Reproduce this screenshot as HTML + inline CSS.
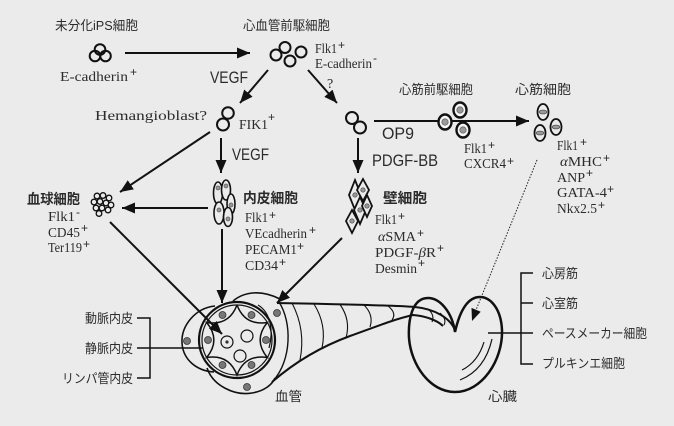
<!DOCTYPE html>
<html><head><meta charset="utf-8">
<style>
html,body{margin:0;padding:0;background:#ebebeb;}
svg{display:block;}
.j{font-family:"Liberation Sans","Noto Sans CJK JP",sans-serif;fill:#2b2b2b;font-size:13px;}
.jb{font-family:"Liberation Sans","Noto Sans CJK JP",sans-serif;fill:#2b2b2b;font-size:14px;font-weight:bold;}
.s{font-family:"Liberation Serif",serif;fill:#2b2b2b;font-size:14px;}
.p{font-family:"Liberation Sans",sans-serif;fill:#2b2b2b;font-size:12px;}
.g{font-family:"Liberation Sans",sans-serif;fill:#2b2b2b;font-size:17px;}
</style></head><body>
<svg width="674" height="426" viewBox="0 0 674 426" xmlns="http://www.w3.org/2000/svg">
<defs>
<marker id="ah" markerUnits="userSpaceOnUse" markerWidth="13" markerHeight="11" refX="13" refY="5.5" orient="auto"><path d="M0,0 L13,5.5 L0,11 Z" fill="#111"/></marker>
</defs>
<rect width="674" height="426" fill="#ebebeb"/>

<!-- arrows -->
<g stroke="#111" stroke-width="2" fill="none" marker-end="url(#ah)">
<line x1="125" y1="53" x2="250" y2="53"/>
<line x1="268" y1="70" x2="240" y2="103"/>
<line x1="308" y1="70" x2="337" y2="103"/>
<line x1="374" y1="121" x2="529" y2="121"/>
<line x1="221" y1="138" x2="221" y2="173"/>
<line x1="210" y1="132" x2="120" y2="192"/>
<line x1="358" y1="138" x2="358" y2="173"/>
<line x1="208" y1="208" x2="122" y2="208"/>
<line x1="222" y1="229" x2="222" y2="303"/>
<line x1="110" y1="222" x2="222" y2="334"/>
<line x1="342" y1="238" x2="277" y2="303"/>
</g>
<!-- dotted arrow -->
<line x1="537" y1="160" x2="476" y2="310" stroke="#222" stroke-width="1" stroke-dasharray="1.5 1.5"/>
<polygon points="472,321 480.7,311.7 471.5,307.9" fill="#111"/>

<!-- iPS cluster -->
<g fill="none" stroke="#111" stroke-width="2">
<circle cx="100" cy="49.5" r="5.3"/><circle cx="95" cy="56" r="5.3"/><circle cx="105.5" cy="56" r="5.3"/>
<circle cx="276" cy="55" r="5.5"/><circle cx="285" cy="47.5" r="5.5"/><circle cx="290" cy="61" r="5.5"/><circle cx="301" cy="52" r="5.5"/>
<circle cx="228" cy="113" r="5.8"/><circle cx="223" cy="124.5" r="6"/>
<circle cx="352" cy="118" r="6"/><circle cx="360" cy="127.5" r="6"/>
</g>

<!-- cardiac progenitors -->
<g stroke="#111" stroke-width="2.4" fill="#f7f7f7">
<ellipse cx="445" cy="122" rx="6.5" ry="7.5"/>
<ellipse cx="460" cy="110" rx="6.5" ry="7.5"/>
<ellipse cx="463" cy="130" rx="6.5" ry="7.5"/>
</g>
<g fill="#9a9a9a" stroke="#666" stroke-width="0.8">
<circle cx="445" cy="122" r="3.2"/><circle cx="460" cy="110" r="3.2"/><circle cx="463" cy="130" r="3.2"/>
</g>
<!-- cardiomyocytes -->
<g stroke="#111" stroke-width="1.8" fill="none">
<ellipse cx="543" cy="112" rx="5.5" ry="8"/>
<ellipse cx="540" cy="133" rx="5.5" ry="8"/>
<ellipse cx="556" cy="127" rx="5.5" ry="8"/>
</g>
<g fill="#9a9a9a" stroke="#555" stroke-width="0.8">
<ellipse cx="543" cy="112" rx="3.8" ry="1.9"/><ellipse cx="540" cy="133" rx="3.8" ry="1.9"/><ellipse cx="556" cy="127" rx="3.8" ry="1.9"/>
</g>

<!-- blood cells -->
<g fill="#ebebeb" stroke="#111" stroke-width="1.3">
<circle cx="97" cy="196" r="2.8"/><circle cx="103" cy="195.5" r="2.8"/><circle cx="109" cy="198" r="2.8"/>
<circle cx="94" cy="202" r="2.8"/><circle cx="100" cy="201.5" r="2.8"/><circle cx="106" cy="203" r="2.8"/><circle cx="111" cy="205" r="2.8"/>
<circle cx="96" cy="208" r="2.8"/><circle cx="102" cy="208" r="2.8"/><circle cx="108" cy="210" r="2.8"/>
<circle cx="99" cy="213.5" r="2.8"/>
</g>

<!-- endothelial cells -->
<g fill="#ebebeb" stroke="#111" stroke-width="1.6">
<ellipse cx="218" cy="193" rx="4.5" ry="11"/>
<ellipse cx="226" cy="190" rx="4.5" ry="10"/>
<ellipse cx="231" cy="204" rx="4" ry="10"/>
<ellipse cx="219" cy="213" rx="5" ry="11"/>
<ellipse cx="228" cy="217" rx="4.5" ry="9.5"/>
</g>
<g fill="#999" stroke="#555" stroke-width="0.7">
<circle cx="218" cy="188" r="2"/><circle cx="226" cy="186" r="2"/><circle cx="231" cy="205" r="2"/><circle cx="219" cy="210" r="2"/><circle cx="228" cy="219" r="2"/>
</g>

<!-- pericytes -->
<g fill="#ebebeb" stroke="#111" stroke-width="1.8">
<path d="M355,180 L361,195 L355,210 L349,195 Z"/>
<path d="M363,179 L369,190 L363,201 L357,190 Z"/>
<path d="M360,197 L366,210 L360,224 L354,210 Z"/>
<path d="M367,195 L372,206 L367,217 L362,206 Z"/>
<path d="M352,210 L358,221 L352,233 L346,221 Z"/>
</g>
<g fill="#999" stroke="#444" stroke-width="0.7">
<circle cx="355" cy="195" r="2.2"/><circle cx="363" cy="190" r="2.2"/><circle cx="360" cy="210" r="2.2"/><circle cx="367" cy="206" r="2.2"/><circle cx="352" cy="221" r="2.2"/>
</g>

<!-- tube -->
<g fill="none" stroke="#111">
<path d="M277,303 C330,304 390,305 415,307 C435,309 450,318 455,330" stroke-width="2"/>
<path d="M272,382 C295,362 320,347 350,336 C375,327 395,319 413,315 C425,316 437,320 443,326" stroke-width="2"/>
<path d="M279,302 C292,322 292,360 273,381" stroke-width="1.4"/>
<path d="M292,303 Q306,330 300,360" stroke-width="1.1"/>
<path d="M314,304 Q327,325 322,348" stroke-width="1.1"/>
<path d="M340,304.5 Q351,320 346,338" stroke-width="1.1"/>
<path d="M364,305 Q374,315 370,327" stroke-width="1.1"/>
<path d="M388,306 Q397,313 392,320" stroke-width="1.1"/>
<path d="M428,309 Q435,315 432,322" stroke-width="1.1"/>
<path d="M440,313 Q447,319 444,325" stroke-width="1.1"/>
</g>

<!-- vessel cross-section -->
<g fill="none" stroke="#111">
<path d="M215,306 C195,308 181,326 182,343 C183,360 197,371 214,372" stroke-width="1.6"/>
<path d="M207,368 C213,386 235,396 252,393 C264,391 272,385 275,378" stroke-width="1.6"/>
<path d="M233,301 C245,291 262,290 280,299" stroke-width="1.6"/>
<path d="M258,305 C270,312 274,330 269,348" stroke-width="1.2"/>
<circle cx="237" cy="340" r="38" stroke-width="2.2"/>
<circle cx="237" cy="340" r="35" stroke-width="1.2"/>
<path d="M237,305 Q245,326 267.3,322.5 Q253,340 267.3,357.5 Q245,354 237,375 Q229,354 206.7,357.5 Q221,340 206.7,322.5 Q229,326 237,305" stroke-width="1.5"/>
<circle cx="227" cy="342" r="6" stroke-width="1.2"/>
<circle cx="247" cy="336" r="6" stroke-width="1.2"/>
<circle cx="240" cy="356" r="6" stroke-width="1.2"/>
</g>
<circle cx="227" cy="342" r="1.6" fill="#333"/>
<g fill="#777" stroke="#333" stroke-width="0.8">
<circle cx="251.5" cy="315" r="3.5"/><circle cx="266" cy="340" r="3.5"/><circle cx="251.5" cy="365" r="3.5"/>
<circle cx="222.5" cy="365" r="3.5"/><circle cx="208" cy="340" r="3.5"/><circle cx="222.5" cy="315" r="3.5"/>
<circle cx="187" cy="341" r="3.5"/><circle cx="277" cy="313" r="3.5"/><circle cx="247" cy="387" r="3.5"/>
</g>

<!-- heart -->
<path d="M455,332 C452,312 440,298 428,298 C412,298 408,320 409,338 C411,365 430,392 455,392 C482,392 503,360 502,330 C501,308 490,297 480,297 C468,297 460,310 455,332 Z" fill="none" stroke="#111" stroke-width="2.5"/>
<path d="M492,339 Q485,370 460,380" fill="none" stroke="#111" stroke-width="1.2"/>
<path d="M484,342 Q478,362 462,370" fill="none" stroke="#111" stroke-width="1.2"/>

<!-- brackets -->
<g stroke="#111" stroke-width="1.5" fill="none">
<path d="M137,318 H150 V378 H137"/>
<line x1="137" y1="348" x2="203" y2="348"/>
<path d="M533,273 H521 V364 H533"/>
<line x1="521" y1="303" x2="533" y2="303"/>
<line x1="488" y1="333" x2="533" y2="333"/>
</g>

<!-- texts -->
<text class="j" x="55" y="30" textLength="83" lengthAdjust="spacingAndGlyphs">未分化iPS細胞</text>
<text class="j" x="243" y="30" textLength="87" lengthAdjust="spacingAndGlyphs">心血管前駆細胞</text>
<text class="s" x="60" y="81" font-size="15" textLength="68" lengthAdjust="spacingAndGlyphs">E-cadherin</text><text class="p" x="130" y="76" font-size="13">+</text>
<text class="g" x="210" y="83" textLength="38" lengthAdjust="spacingAndGlyphs">VEGF</text>
<text class="s" x="315" y="53" textLength="22" lengthAdjust="spacingAndGlyphs">Flk1</text><text class="p" x="338" y="49">+</text>
<text class="s" x="315" y="68" textLength="57" lengthAdjust="spacingAndGlyphs">E-cadherin</text><text class="p" x="373" y="62" font-size="10">-</text>
<text class="s" x="327" y="88" font-size="16">?</text>
<text class="s" x="95" y="120" font-size="16" textLength="112" lengthAdjust="spacingAndGlyphs">Hemangioblast?</text>
<text class="s" x="239" y="129" font-size="15" textLength="29" lengthAdjust="spacingAndGlyphs">FIK1</text><text class="p" x="268" y="121" font-size="13">+</text>
<text class="g" x="232" y="160" textLength="37" lengthAdjust="spacingAndGlyphs">VEGF</text>

<text class="jb" x="27" y="204" textLength="53" lengthAdjust="spacingAndGlyphs">血球細胞</text>
<text class="s" x="48" y="221" textLength="27" lengthAdjust="spacingAndGlyphs">Flk1</text><text class="p" x="76" y="216" font-size="10">-</text>
<text class="s" x="48" y="237" textLength="32" lengthAdjust="spacingAndGlyphs">CD45</text><text class="p" x="81" y="232">+</text>
<text class="s" x="48" y="252" textLength="34" lengthAdjust="spacingAndGlyphs">Ter119</text><text class="p" x="83" y="248">+</text>

<text class="jb" x="243" y="203" textLength="55" lengthAdjust="spacingAndGlyphs">内皮細胞</text>
<text class="s" x="245" y="222" textLength="23" lengthAdjust="spacingAndGlyphs">Flk1</text><text class="p" x="269" y="219">+</text>
<text class="s" x="245" y="238" textLength="62" lengthAdjust="spacingAndGlyphs">VEcadherin</text><text class="p" x="309" y="234">+</text>
<text class="s" x="245" y="254" textLength="52" lengthAdjust="spacingAndGlyphs">PECAM1</text><text class="p" x="297" y="250">+</text>
<text class="s" x="245" y="270" textLength="33" lengthAdjust="spacingAndGlyphs">CD34</text><text class="p" x="279" y="266">+</text>

<text class="g" x="382" y="139" textLength="32" lengthAdjust="spacingAndGlyphs">OP9</text>
<text class="g" x="372" y="166" textLength="66" lengthAdjust="spacingAndGlyphs">PDGF-BB</text>
<text class="jb" x="383" y="203" textLength="44" lengthAdjust="spacingAndGlyphs">壁細胞</text>
<text class="s" x="375" y="224" textLength="22" lengthAdjust="spacingAndGlyphs">Flk1</text><text class="p" x="398" y="220">+</text>
<text class="s" x="378" y="241" textLength="38" lengthAdjust="spacingAndGlyphs"><tspan font-style="italic">α</tspan>SMA</text><text class="p" x="417" y="237">+</text>
<text class="s" x="375" y="257" textLength="61" lengthAdjust="spacingAndGlyphs">PDGF-<tspan font-style="italic">β</tspan>R</text><text class="p" x="437" y="252">+</text>
<text class="s" x="375" y="273" textLength="42" lengthAdjust="spacingAndGlyphs">Desmin</text><text class="p" x="418" y="267">+</text>

<text class="j" x="399" y="94" textLength="74" lengthAdjust="spacingAndGlyphs">心筋前駆細胞</text>
<text class="j" x="515" y="94" textLength="56" lengthAdjust="spacingAndGlyphs">心筋細胞</text>
<text class="s" x="464" y="153" textLength="23" lengthAdjust="spacingAndGlyphs">Flk1</text><text class="p" x="488" y="149">+</text>
<text class="s" x="464" y="168" textLength="42" lengthAdjust="spacingAndGlyphs">CXCR4</text><text class="p" x="507" y="165">+</text>

<text class="s" x="557" y="150" textLength="21" lengthAdjust="spacingAndGlyphs">Flk1</text><text class="p" x="580" y="146">+</text>
<text class="s" x="560" y="166" textLength="42" lengthAdjust="spacingAndGlyphs"><tspan font-style="italic">α</tspan>MHC</text><text class="p" x="603" y="162">+</text>
<text class="s" x="557" y="182" textLength="28" lengthAdjust="spacingAndGlyphs">ANP</text><text class="p" x="586" y="177">+</text>
<text class="s" x="557" y="197" textLength="50" lengthAdjust="spacingAndGlyphs">GATA-4</text><text class="p" x="607" y="193">+</text>
<text class="s" x="557" y="213" textLength="40" lengthAdjust="spacingAndGlyphs">Nkx2.5</text><text class="p" x="598" y="209">+</text>

<text class="j" x="85" y="323" textLength="48" lengthAdjust="spacingAndGlyphs">動脈内皮</text>
<text class="j" x="85" y="353" textLength="48" lengthAdjust="spacingAndGlyphs">静脈内皮</text>
<text class="j" x="62" y="383" textLength="71" lengthAdjust="spacingAndGlyphs">リンパ管内皮</text>
<text class="j" x="275" y="401" textLength="27" lengthAdjust="spacingAndGlyphs">血管</text>
<text class="j" x="488" y="401" textLength="29" lengthAdjust="spacingAndGlyphs">心臓</text>
<text class="j" x="542" y="278" textLength="36" lengthAdjust="spacingAndGlyphs">心房筋</text>
<text class="j" x="542" y="308" textLength="36" lengthAdjust="spacingAndGlyphs">心室筋</text>
<text class="j" x="542" y="338" textLength="105" lengthAdjust="spacingAndGlyphs">ペースメーカー細胞</text>
<text class="j" x="542" y="368" textLength="83" lengthAdjust="spacingAndGlyphs">プルキンエ細胞</text>
</svg>
</body></html>
